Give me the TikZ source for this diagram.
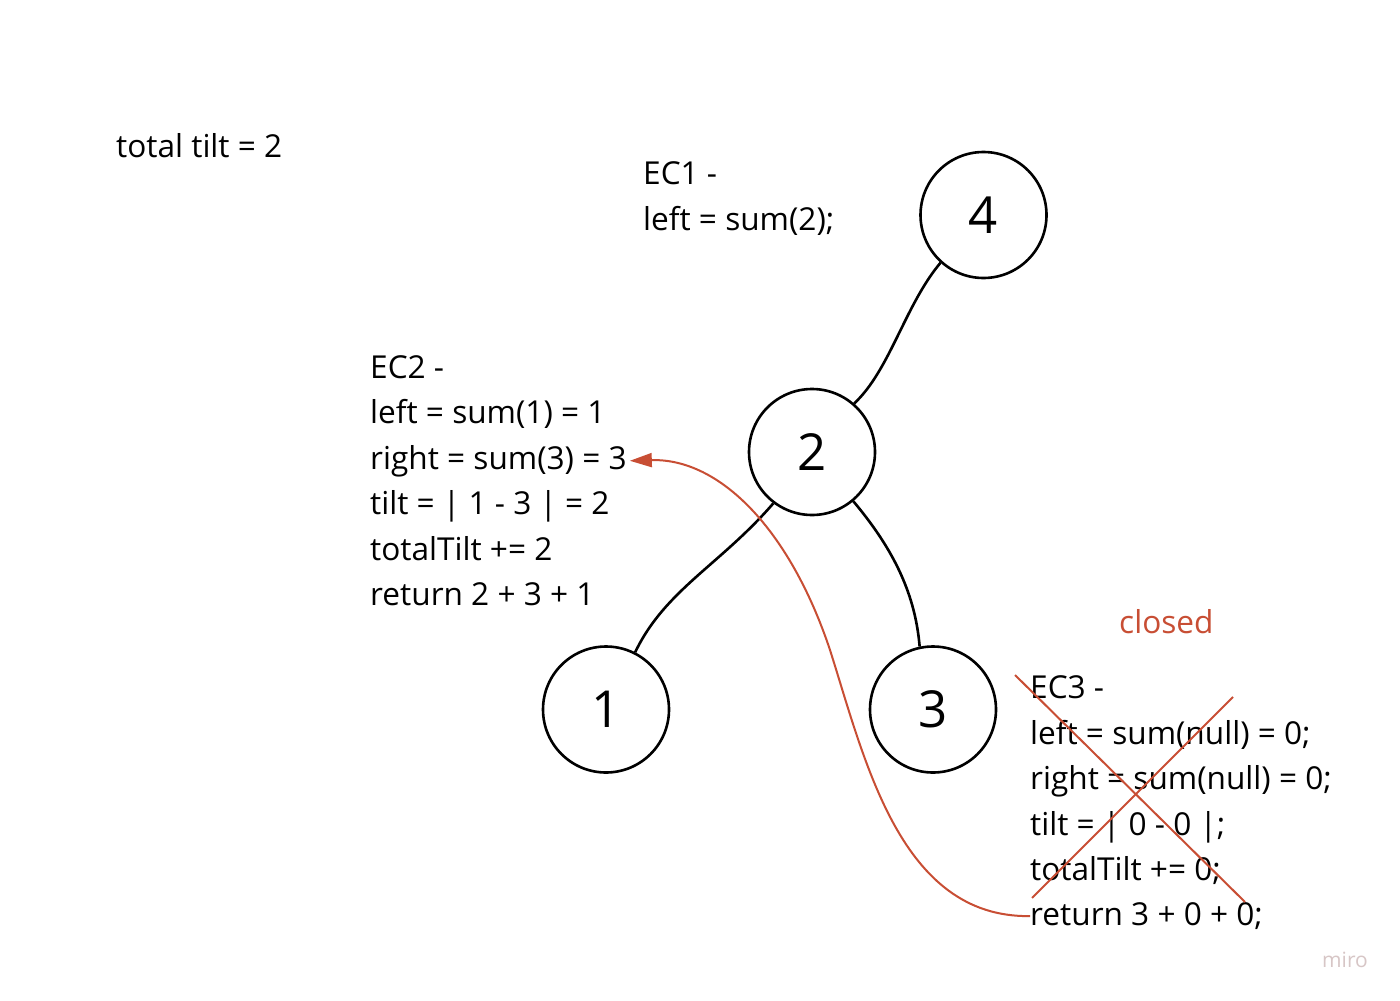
\documentclass[tikz,border=0pt]{standalone}
\usepackage{fontspec}
\setmainfont{Open Sans}
\usetikzlibrary{arrows.meta}
\definecolor{redink}{RGB}{200,78,52}
\definecolor{wm}{RGB}{215,198,198}
\tikzset{
  txt/.style={font=\fontsize{31.6}{36}\selectfont, inner sep=0pt, anchor=base west, text=black},
  circ/.style={draw=black, line width=2.6pt, circle, minimum size=126pt, inner sep=0pt, font=\fontsize{51}{60}\selectfont},
  edge/.style={draw=black, line width=2.6pt},
  redline/.style={draw=redink, line width=2pt},
}
\begin{document}
\begin{tikzpicture}[x=1pt,y=-1pt]
\useasboundingbox (0,0) rectangle (1400,1001);
\fill[white] (0,0) rectangle (1400,1001);

% tree nodes
\node[circ] (n4) at (983.5,215) {4};
\node[circ] (n2) at (812,452) {2};
\node[circ] (n1) at (606,709.5) {1};
\node[circ] (n3) at (933,709.5) {3};

% edges
\draw[edge] (n4.228) .. controls (905,305) and (890,370) .. (n2.49);
\draw[edge] (n2.233) .. controls (720,565) and (665,590) .. (n1.63);
\draw[edge] (n2.310) .. controls (890,545) and (915,590) .. (n3.102);

% texts
\node[txt] (tt) at (116,157) {total tilt = 2};

\node[txt] (e1a) at (643,184.5) {EC1 -};
\node[txt] (e1b) at (643,230) {left = sum(2);};

\node[txt] (e2a) at (370,378) {EC2 -};
\node[txt] (e2b) at (370,423.5) {left = sum(1) = 1};
\node[txt] (e2c) at (370,469) {right = sum(3) = 3};
\node[txt] (e2d) at (370,514.5) {tilt = | 1 - 3 | = 2};
\node[txt] (e2e) at (370,560) {totalTilt += 2};
\node[txt] (e2f) at (370,605.5) {return 2 + 3 + 1};

\node[txt, text=redink] (cl) at (1119,633) {closed};

\node[txt] (e3a) at (1030,698.5) {EC3 -};
\node[txt] (e3b) at (1030,744) {left = sum(null) = 0;};
\node[txt] (e3c) at (1030,789.5) {right = sum(null) = 0;};
\node[txt] (e3d) at (1030,835) {tilt = | 0 - 0 |;};
\node[txt] (e3e) at (1030,880) {totalTilt += 0;};
\node[txt] (e3f) at (1030,925.5) {return 3 + 0 + 0;};

% cross
\coordinate (xa) at (1015,675);
\coordinate (xb) at (1245,902);
\coordinate (xc) at (1233,697);
\coordinate (xd) at (1032,898);
\draw[redline] (xa) -- (xb);
\draw[redline] (xc) -- (xd);

% return arrow
\coordinate (bend) at (830,650);
\draw[redline, -{Triangle[length=22pt,width=14pt]}] (e3f.west) .. controls (900,918) and (865,760) .. (bend) .. controls (790,530) and (720,458) .. ([xshift=3pt]e2c.east);

% watermark
\node[txt, font=\fontsize{21}{24}\selectfont, text=wm] (miro) at (1322,967) {miro};
\end{tikzpicture}
\end{document}
